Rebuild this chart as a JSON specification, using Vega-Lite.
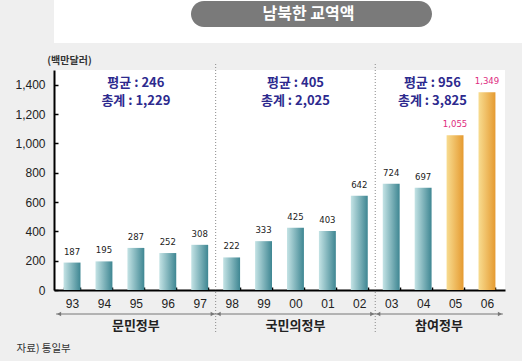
{
  "$schema": "https://vega.github.io/schema/vega-lite/v6.json",
  "background": "#efefef",
  "padding": {"left": 0, "top": 0, "right": 0, "bottom": 6},
  "spacing": 12,
  "config": {"view": {"stroke": null}, "font": "Liberation Sans"},
  "datasets": {
    "trade": [
      {"year": "93", "value": 187},
      {"year": "94", "value": 195},
      {"year": "95", "value": 287},
      {"year": "96", "value": 252},
      {"year": "97", "value": 308},
      {"year": "98", "value": 222},
      {"year": "99", "value": 333},
      {"year": "00", "value": 425},
      {"year": "01", "value": 403},
      {"year": "02", "value": 642},
      {"year": "03", "value": 724},
      {"year": "04", "value": 697},
      {"year": "05", "value": 1055},
      {"year": "06", "value": 1349}
    ],
    "eras": [
      {"era": "문민정부", "start": "93", "end": "97", "mid": "95", "avg": "평균 : 246", "total": "총계 : 1,229"},
      {"era": "국민의정부", "start": "98", "end": "02", "mid": "00", "avg": "평균 : 405", "total": "총계 : 2,025"},
      {"era": "참여정부", "start": "03", "end": "06", "mid": "04", "avg": "평균 : 956", "total": "총계 : 3,825"}
    ],
    "source": [{"src": "자료) 통일부"}]
  },
  "vconcat": [
    {
      "width": 522,
      "height": 43,
      "view": {"fill": "white", "stroke": null},
      "data": {"values": [{"t": "남북한 교역액"}]},
      "encoding": {
        "x": {"field": "t", "type": "nominal", "axis": null, "scale": {"type": "band", "paddingInner": 0, "paddingOuter": 0.583, "align": 0.4875}},
        "y": {"field": "t", "type": "nominal", "axis": null, "scale": {"type": "band", "paddingInner": 0, "paddingOuter": 0.327, "align": 0.059}}
      },
      "layer": [
        {"mark": {"type": "rect", "color": "#7a7a7a", "cornerRadius": 13}},
        {"mark": {"type": "text", "color": "white", "font": "Noto Sans CJK KR", "fontWeight": "bold", "fontSize": 16, "dx": -3}, "encoding": {"text": {"field": "t"}}}
      ]
    },
    {
      "width": 451,
      "height": 220,
      "view": {"fill": "white", "stroke": null},
      "resolve": {"axis": {"x": "independent", "y": "independent"}},
      "layer": [
        {
          "data": {"name": "trade"},
          "transform": [{"filter": {"not": {"field": "year", "oneOf": ["05", "06"]}}}],
          "mark": {"type": "bar", "fill": {"gradient": "linear", "x1": 0, "y1": 0, "x2": 1, "y2": 0, "stops": [{"offset": 0, "color": "#c4e3e5"}, {"offset": 1, "color": "#3e8692"}]}},
          "encoding": {
            "x": {
              "field": "year", "type": "ordinal",
              "scale": {"domain": ["93", "94", "95", "96", "97", "98", "99", "00", "01", "02", "03", "04", "05", "06"], "paddingInner": 0.47, "paddingOuter": 0.3},
              "axis": {"title": null, "labelAngle": 0, "labelFontSize": 12, "labelColor": "#222", "domainColor": "#000", "domainWidth": 2, "tickColor": "#000", "tickWidth": 1.5, "tickSize": -3, "tickBand": "extent", "labelPadding": 11}
            },
            "y": {
              "field": "value", "type": "quantitative",
              "scale": {"domain": [0, 1500], "nice": false},
              "axis": {"values": [0, 200, 400, 600, 800, 1000, 1200, 1400], "format": ",.0f", "grid": false, "domainColor": "#000", "domainWidth": 2, "tickColor": "#000", "tickWidth": 1.5, "tickSize": -4, "labelFontSize": 12, "labelColor": "#222", "labelPadding": 13, "title": "(백만달러)", "titleAngle": 0, "titleX": 15, "titleY": -10, "titleAlign": "center", "titleBaseline": "middle", "titleFontSize": 10, "titleFont": "Noto Sans CJK KR", "titleFontWeight": "bold", "titleColor": "#333", "minExtent": 54, "maxExtent": 54}
            }
          }
        },
        {
          "data": {"name": "trade"},
          "transform": [{"filter": {"field": "year", "oneOf": ["05", "06"]}}],
          "mark": {"type": "bar", "fill": {"gradient": "linear", "x1": 0, "y1": 0, "x2": 1, "y2": 0, "stops": [{"offset": 0, "color": "#f8dc90"}, {"offset": 1, "color": "#e59a30"}]}},
          "encoding": {
            "x": {"field": "year", "type": "ordinal", "axis": null},
            "y": {"field": "value", "type": "quantitative", "axis": null}
          }
        },
        {
          "data": {"name": "eras"},
          "transform": [{"filter": "datum.end != '06'"}],
          "mark": {"type": "rule", "color": "#8a8a8a", "strokeDash": [1, 2], "strokeWidth": 1, "yOffset": 42, "y2Offset": -8},
          "encoding": {
            "x": {"field": "end", "type": "ordinal", "bandPosition": 1.443, "axis": null},
            "y": {"datum": 0, "type": "quantitative", "axis": null},
            "y2": {"datum": 1500}
          }
        },
        {
          "data": {"name": "trade"},
          "mark": {"type": "text", "baseline": "bottom", "dy": -6, "fontSize": 9.5, "font": "DejaVu Sans Condensed, Liberation Sans, sans-serif"},
          "encoding": {
            "x": {"field": "year", "type": "ordinal", "axis": null},
            "y": {"field": "value", "type": "quantitative", "axis": null},
            "text": {"field": "value", "type": "quantitative", "format": ","},
            "color": {"condition": {"test": "datum.year == '05' || datum.year == '06'", "value": "#de2a80"}, "value": "#222222"}
          }
        },
        {
          "data": {"name": "eras"},
          "transform": [{"filter": "datum.end != '06'"}],
          "mark": {"type": "text", "font": "Noto Sans CJK KR", "fontWeight": "bold", "fontSize": 13, "color": "#2d2a8e", "baseline": "top", "dy": 7},
          "encoding": {
            "x": {"field": "mid", "type": "ordinal", "bandPosition": 0.5, "axis": null},
            "y": {"datum": 1500, "type": "quantitative", "axis": null},
            "text": {"field": "avg"}
          }
        },
        {
          "data": {"name": "eras"},
          "transform": [{"filter": "datum.end != '06'"}],
          "mark": {"type": "text", "font": "Noto Sans CJK KR", "fontWeight": "bold", "fontSize": 13, "color": "#2d2a8e", "baseline": "top", "dy": 25},
          "encoding": {
            "x": {"field": "mid", "type": "ordinal", "bandPosition": 0.5, "axis": null},
            "y": {"datum": 1500, "type": "quantitative", "axis": null},
            "text": {"field": "total"}
          }
        },
        {
          "data": {"name": "eras"},
          "transform": [{"filter": "datum.end == '06'"}],
          "mark": {"type": "text", "font": "Noto Sans CJK KR", "fontWeight": "bold", "fontSize": 13, "color": "#2d2a8e", "baseline": "top", "dy": 7},
          "encoding": {
            "x": {"field": "mid", "type": "ordinal", "bandPosition": 1.05, "axis": null},
            "y": {"datum": 1500, "type": "quantitative", "axis": null},
            "text": {"field": "avg"}
          }
        },
        {
          "data": {"name": "eras"},
          "transform": [{"filter": "datum.end == '06'"}],
          "mark": {"type": "text", "font": "Noto Sans CJK KR", "fontWeight": "bold", "fontSize": 13, "color": "#2d2a8e", "baseline": "top", "dy": 25},
          "encoding": {
            "x": {"field": "mid", "type": "ordinal", "bandPosition": 1.05, "axis": null},
            "y": {"datum": 1500, "type": "quantitative", "axis": null},
            "text": {"field": "total"}
          }
        },
        {
          "data": {"name": "eras"},
          "mark": {"type": "rule", "color": "#777777", "strokeWidth": 1, "yOffset": 24},
          "encoding": {
            "x": {"field": "start", "type": "ordinal", "bandPosition": -0.443, "axis": null},
            "x2": {"field": "end", "bandPosition": 1.443},
            "y": {"datum": 0, "type": "quantitative", "axis": null}
          }
        },
        {
          "data": {"name": "eras"},
          "mark": {"type": "point", "shape": "triangle-left", "filled": true, "size": 22, "color": "#777777", "opacity": 1, "yOffset": 24, "xOffset": 3},
          "encoding": {
            "x": {"field": "start", "type": "ordinal", "bandPosition": -0.443, "axis": null},
            "y": {"datum": 0, "type": "quantitative", "axis": null}
          }
        },
        {
          "data": {"name": "eras"},
          "mark": {"type": "point", "shape": "triangle-right", "filled": true, "size": 22, "color": "#777777", "opacity": 1, "yOffset": 24, "xOffset": -3},
          "encoding": {
            "x": {"field": "end", "type": "ordinal", "bandPosition": 1.443, "axis": null},
            "y": {"datum": 0, "type": "quantitative", "axis": null}
          }
        },
        {
          "data": {"name": "eras"},
          "transform": [{"filter": "datum.end != '06'"}],
          "mark": {"type": "text", "font": "Noto Sans CJK KR", "fontWeight": "bold", "fontSize": 13, "color": "#222222", "baseline": "middle", "dy": 36},
          "encoding": {
            "x": {"field": "mid", "type": "ordinal", "bandPosition": 0.5, "axis": null},
            "y": {"datum": 0, "type": "quantitative", "axis": null},
            "text": {"field": "era"}
          }
        },
        {
          "data": {"name": "eras"},
          "transform": [{"filter": "datum.end == '06'"}],
          "mark": {"type": "text", "font": "Noto Sans CJK KR", "fontWeight": "bold", "fontSize": 13, "color": "#222222", "baseline": "middle", "dy": 36},
          "encoding": {
            "x": {"field": "mid", "type": "ordinal", "bandPosition": 1.44, "axis": null},
            "y": {"datum": 0, "type": "quantitative", "axis": null},
            "text": {"field": "era"}
          }
        },
        {
          "data": {"name": "source"},
          "mark": {"type": "text", "font": "Noto Sans CJK KR", "fontSize": 10.5, "color": "#333333", "align": "left", "baseline": "middle", "dx": -47, "dy": 59},
          "encoding": {
            "x": {"datum": "93", "bandPosition": 0, "axis": null},
            "y": {"datum": 0, "type": "quantitative", "axis": null},
            "text": {"field": "src"}
          }
        }
      ]
    }
  ]
}
